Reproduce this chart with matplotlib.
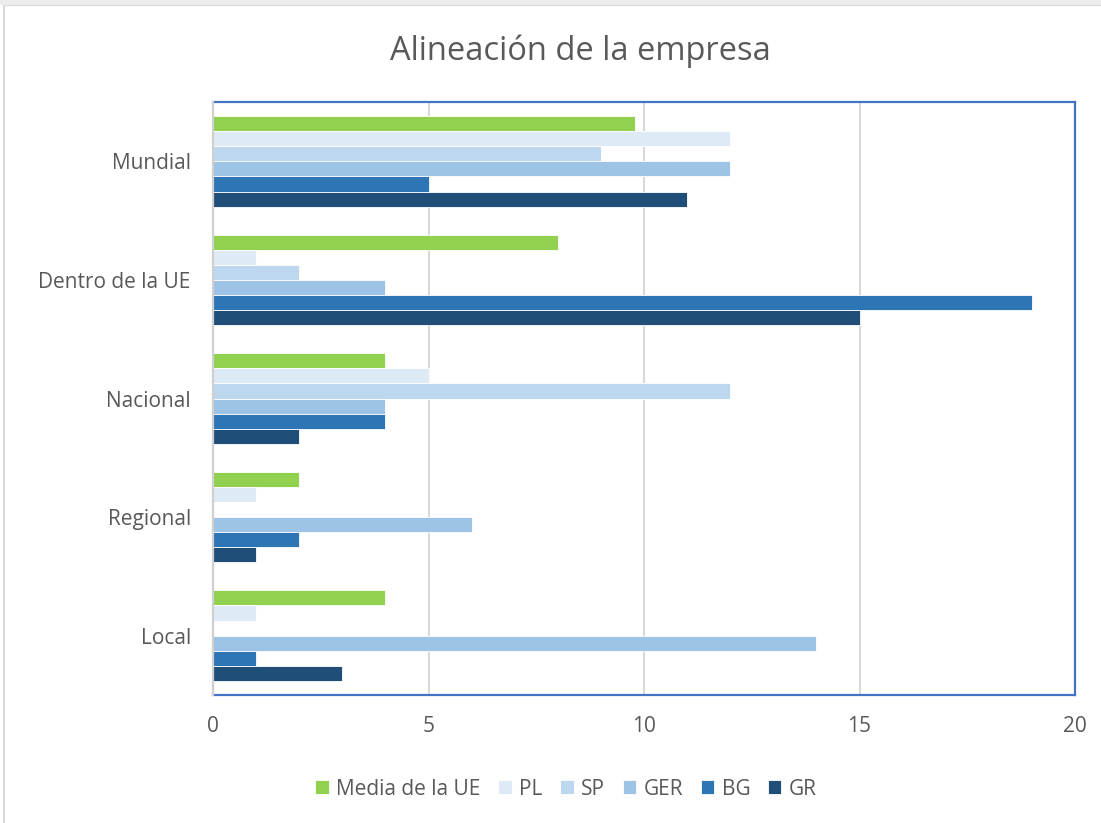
import matplotlib.pyplot as plt
import numpy as np
from matplotlib.patches import Rectangle

plt.rcParams['font.family'] = ['Open Sans', 'DejaVu Sans']

categories = ["Mundial", "Dentro de la UE", "Nacional", "Regional", "Local"]
series_names = ["Media de la UE", "PL", "SP", "GER", "BG", "GR"]
media_ue = [9.8, 8, 4, 2, 4]
pl = [12, 1, 5, 1, 1]
sp = [9, 2, 12, 0, 0]
ger = [12, 4, 4, 6, 14]
bg = [5, 19, 4, 2, 1]
gr = [11, 15, 2, 1, 3]
series_values = [media_ue, pl, sp, ger, bg, gr]
colors = ["#92D050", "#DEEBF7", "#BDD7EE", "#9DC3E6", "#2E75B6", "#1F4E79"]
x_ticks = [0, 5, 10, 15, 20]

text_color = "#595959"

fig = plt.figure(figsize=(11.01, 8.23), dpi=100)
fig.patch.set_facecolor("white")

# light frame around the chart
fig.patches.append(Rectangle((0.004, -0.01), 1.1, 1.004, transform=fig.transFigure,
                             fill=False, edgecolor="#d9d9d9", linewidth=1.5))
fig.patches.append(Rectangle((0, 0.994), 1, 0.006, transform=fig.transFigure,
                             facecolor="#ececec", edgecolor="none"))

ax = fig.add_axes([0.1935, 0.1555, 0.7829, 0.7205])

n = len(series_names)
bar_h = 0.1275
y_centers = np.arange(len(categories))[::-1]  # Mundial at top
for i, (name, vals, col) in enumerate(zip(series_names, series_values, colors)):
    offs = (n / 2 - 0.5 - i) * bar_h
    ax.barh(y_centers + offs, vals, height=bar_h, color=col, label=name,
            edgecolor="white", linewidth=0.6, zorder=3)

ax.set_xlim(0, 20)
ax.set_ylim(-0.5, 4.5)
ax.set_xticks(x_ticks)
ax.set_xticklabels([str(t) for t in x_ticks])
ax.set_yticks(y_centers)
ax.set_yticklabels(categories)
ax.tick_params(axis="both", length=0, labelsize=15, colors=text_color)
ax.tick_params(axis="x", pad=15)
ax.tick_params(axis="y", pad=16)

ax.grid(axis="x", color="#d9d9d9", linewidth=1.5, zorder=0)
ax.set_axisbelow(True)
for side in ["top", "right", "bottom"]:
    ax.spines[side].set_color("#4472C4")
    ax.spines[side].set_linewidth(1.6)
ax.spines["left"].set_color("#d0d0d0")
ax.spines["left"].set_linewidth(1.6)
ax.spines["left"].set_zorder(5)

fig.text(0.527, 0.938, "Alineación de la empresa", ha="center", va="center",
         fontsize=23.5, color=text_color)

handles, labels = ax.get_legend_handles_labels()
leg = fig.legend(handles, labels, loc="center", bbox_to_anchor=(0.514, 0.041), ncol=6,
                 frameon=False, fontsize=15, handlelength=0.65, handleheight=0.65,
                 handletextpad=0.35, columnspacing=0.85)
for t in leg.get_texts():
    t.set_color(text_color)

fig.savefig("out.png", dpi=100)
